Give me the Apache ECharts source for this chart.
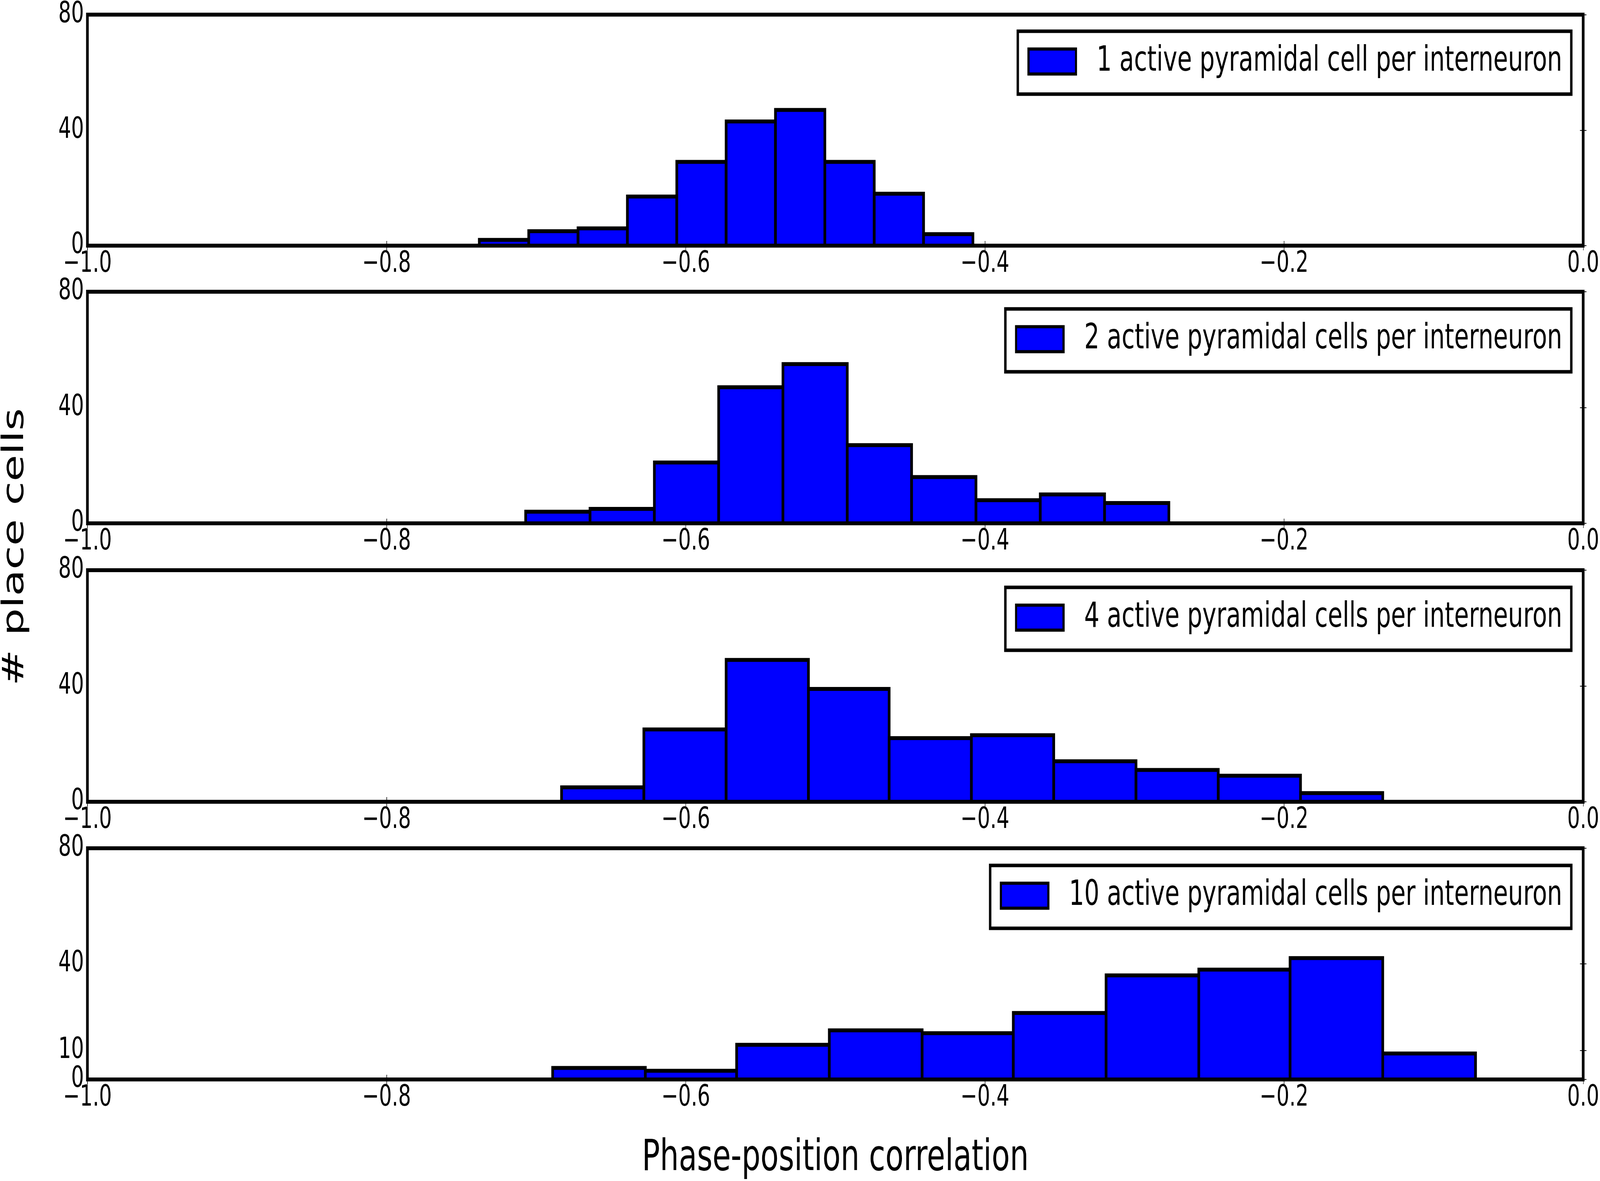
<!DOCTYPE html>
<html>
<head>
<meta charset="utf-8">
<script src="https://cdn.jsdelivr.net/npm/echarts@6/dist/echarts.min.js"></script>
<style>
html,body{margin:0;padding:0;background:#fff;overflow:hidden;}
#wrap{position:absolute;left:0;top:0;width:5966px;height:3024px;transform-origin:0 0;}
#chart{width:5966px;height:3024px;}
</style>
</head>
<body>
<div id="wrap"><div id="chart"></div></div>
<script>
// ---- data ----
const seriesNames = [
  '1 active pyramidal cell per interneuron',
  '2 active pyramidal cells per interneuron',
  '4 active pyramidal cells per interneuron',
  '10 active pyramidal cells per interneuron'
];
// bin edges for each histogram
const edges1 = [-0.738, -0.705, -0.672, -0.639, -0.606, -0.573, -0.540, -0.507, -0.474, -0.441, -0.408];
const edges2 = [-0.707, -0.664, -0.621, -0.578, -0.535, -0.492, -0.449, -0.406, -0.363, -0.320, -0.277];
const edges4 = [-0.683, -0.628, -0.573, -0.518, -0.464, -0.409, -0.354, -0.299, -0.244, -0.189, -0.134];
const edges10 = [-0.689, -0.627, -0.566, -0.504, -0.442, -0.381, -0.319, -0.257, -0.196, -0.134, -0.072];
// counts per bin
const counts1 = [2, 5, 6, 17, 29, 43, 47, 29, 18, 4];
const counts2 = [4, 5, 21, 47, 55, 27, 16, 8, 10, 7];
const counts4 = [5, 25, 49, 39, 22, 23, 14, 11, 9, 3];
const counts10 = [4, 3, 12, 17, 16, 23, 36, 38, 42, 9];
// tick values
const xTicks = [-1.0, -0.8, -0.6, -0.4, -0.2, 0.0];
const yTicksStd = [0, 40, 80];
const yTicksLast = [0, 10, 40, 80];
const xTitle = 'Phase-position correlation';
const yTitle = '# place cells';

const allEdges = [edges1, edges2, edges4, edges10];
const allCounts = [counts1, counts2, counts4, counts10];
const allYTicks = [yTicksStd, yTicksStd, yTicksStd, yTicksLast];

// ---- fit the 5966x3024 drawing into whatever window we get ----
const REF_W = 5966, REF_H = 3024;
const wrap = document.getElementById('wrap');
const sx = (window.innerWidth || REF_W) / REF_W, sy = (window.innerHeight || REF_H) / REF_H;
wrap.style.transform = 'scale(' + sx + ',' + sy + ')';

// ---- layout ----
const FONT = 'DejaVu Sans';
const gridLeft = 326, gridRight = 59;
const gridTops = [36, 747, 1460, 2172];
const gridH = 593;
const tickStyle = {show: true, inside: true, length: 12, lineStyle: {color: '#000', width: 2}};
const yLabelBase = {show: true, margin: 13, color: '#000', fontFamily: FONT, fontSize: 75,
  hideOverlap: false, showMinLabel: true, showMaxLabel: true};

const grids = [], xAxes = [], yAxes = [], series = [], legends = [];
const fmtX = v => { const r = Math.round(v * 10) / 10; return (r < 0 ? '\u2212' : '') + Math.abs(r).toFixed(1); };

for (let k = 0; k < 4; k++) {
  grids.push({left: gridLeft, right: gridRight, top: gridTops[k], height: gridH,
    show: true, borderColor: '#000', borderWidth: 10, backgroundColor: 'transparent'});
  const xBase = {type: 'value', gridIndex: k, min: xTicks[0], max: xTicks[xTicks.length - 1], interval: 0.2,
    axisLine: {show: false}, splitLine: {show: false}, axisTick: tickStyle};
  xAxes.push(Object.assign({}, xBase, {position: 'bottom',
    axisLabel: {show: true, margin: 10, color: '#000', fontFamily: FONT, fontSize: 75, formatter: fmtX,
      hideOverlap: false, showMinLabel: true, showMaxLabel: true},
    name: k === 3 ? xTitle : '', nameLocation: 'middle', nameGap: 148,
    nameTextStyle: {fontFamily: FONT, fontSize: 111, color: '#000'}}));
  xAxes.push(Object.assign({}, xBase, {position: 'top', axisLabel: {show: false}}));

  const yt = allYTicks[k];
  // labels split over two overlaid left axes so close ticks (0 and 10) are both labelled
  const labA = yt.filter((v, i) => i % 2 === 0), labB = yt.filter((v, i) => i % 2 === 1);
  const yBase = {type: 'value', gridIndex: k, min: 0, max: 80,
    axisLine: {show: false}, splitLine: {show: false}};
  yAxes.push(Object.assign({}, yBase, {position: 'left',
    axisTick: Object.assign({}, tickStyle, {customValues: yt}),
    axisLabel: Object.assign({}, yLabelBase, {customValues: labA})}));
  yAxes.push(Object.assign({}, yBase, {position: 'right',
    axisTick: Object.assign({}, tickStyle, {customValues: yt}), axisLabel: {show: false}}));
  yAxes.push(Object.assign({}, yBase, {position: 'left', offset: 0,
    axisTick: {show: false},
    axisLabel: Object.assign({}, yLabelBase, {customValues: labB})}));

  const e = allEdges[k], c = allCounts[k];
  const data = c.map((v, i) => [e[i], e[i + 1], v]);
  series.push({
    type: 'custom', name: seriesNames[k], xAxisIndex: 2 * k, yAxisIndex: 3 * k,
    itemStyle: {color: '#0000ff', borderColor: '#000', borderWidth: 10},
    encode: {x: [0, 1], y: 2},
    data: data,
    renderItem: function (params, api) {
      const p0 = api.coord([api.value(0), 0]);
      const p1 = api.coord([api.value(1), api.value(2)]);
      return {type: 'rect',
        shape: {x: p0[0], y: p1[1], width: p1[0] - p0[0], height: p0[1] - p1[1]},
        style: {fill: '#0000ff', stroke: '#000', lineWidth: 10}};
    }
  });
  legends.push({
    data: [{name: seriesNames[k], icon: 'rect'}],
    right: 107, top: gridTops[k] + 44, orient: 'horizontal',
    selectedMode: false,
    backgroundColor: '#fff', borderColor: '#000', borderWidth: 9, borderRadius: 0,
    padding: [33, 34, 39, 36],
    itemWidth: 177, itemHeight: 64,
    itemStyle: {color: '#0000ff', borderColor: '#000', borderWidth: 8},
    textStyle: {fontFamily: FONT, fontSize: 89, color: '#000', padding: [0, 0, 0, 72]}
  });
}

const chart = echarts.init(document.getElementById('chart'), null, {renderer: 'canvas', width: REF_W, height: REF_H});
chart.setOption({
  animation: false,
  backgroundColor: '#fff',
  grid: grids, xAxis: xAxes, yAxis: yAxes, series: series, legend: legends,
  graphic: [{
    type: 'text', x: 57, y: (gridTops[0] + gridTops[3] + gridH) / 2, rotation: Math.PI / 2,
    style: {text: yTitle, fontFamily: FONT, fontSize: 111, fill: '#000', align: 'center', verticalAlign: 'middle'}
  }]
});
</script>
</body>
</html>
